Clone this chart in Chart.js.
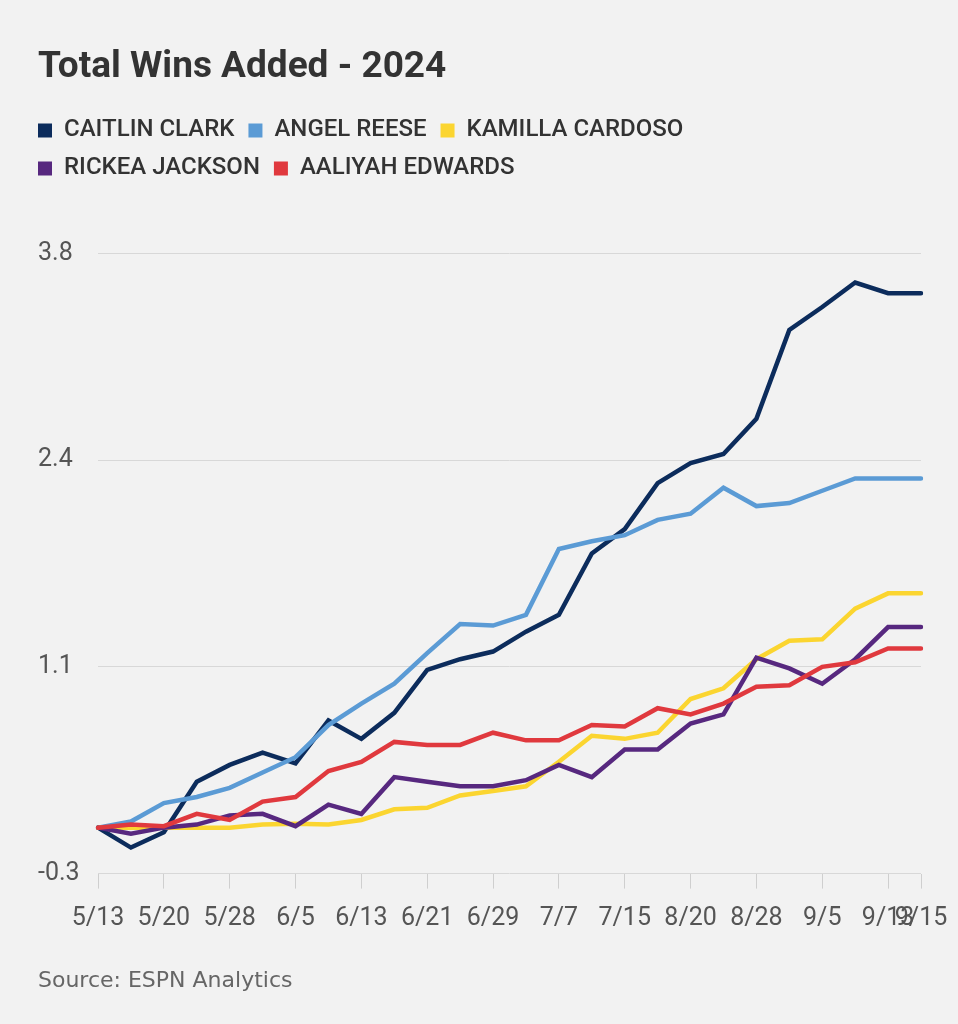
<!DOCTYPE html>
<html>
<head>
<meta charset="utf-8">
<script src="https://cdn.jsdelivr.net/npm/chart.js@4"></script>
<style>
  html, body { margin: 0; padding: 0; background: #f2f2f2; }
  .wrap { width: 958px; height: 1024px; }
</style>
</head>
<body>
<div class="wrap"><canvas id="myChart"></canvas></div>
<script>
// dates of each game window (only every other one is labelled on the axis)
const dates = ['5/13', '5/16', '5/20', '5/24', '5/28', '6/1', '6/5', '6/9', '6/13', '6/17',
    '6/21', '6/25', '6/29', '7/3', '7/7', '7/11', '7/15', '7/17', '8/20', '8/24',
    '8/28', '9/1', '9/5', '9/9', '9/13', '9/15'];

const clark = [0, -0.13, -0.03, 0.30, 0.41, 0.49, 0.42, 0.70, 0.58, 0.75,
    1.03, 1.10, 1.15, 1.28, 1.39, 1.79, 1.95, 2.25, 2.38, 2.44,
    2.67, 3.25, 3.40, 3.56, 3.49, 3.49];
const reese = [0, 0.04, 0.16, 0.20, 0.26, 0.36, 0.46, 0.67, 0.81, 0.94,
    1.14, 1.33, 1.32, 1.39, 1.82, 1.87, 1.91, 2.01, 2.05, 2.22,
    2.10, 2.12, 2.20, 2.28, 2.28, 2.28];
const cardoso = [0, 0, 0, 0, 0, 0.02, 0.025, 0.02, 0.05, 0.12,
    0.13, 0.21, 0.24, 0.27, 0.43, 0.60, 0.58, 0.62, 0.84, 0.91,
    1.10, 1.22, 1.23, 1.43, 1.53, 1.53];
const jackson = [0, -0.04, 0, 0.02, 0.08, 0.09, 0.01, 0.15, 0.09, 0.33,
    0.30, 0.27, 0.27, 0.31, 0.41, 0.33, 0.51, 0.51, 0.68, 0.74,
    1.11, 1.04, 0.94, 1.10, 1.31, 1.31];
const edwards = [0, 0.02, 0.01, 0.09, 0.05, 0.17, 0.20, 0.37, 0.43, 0.56,
    0.54, 0.54, 0.62, 0.57, 0.57, 0.67, 0.66, 0.78, 0.74, 0.81,
    0.92, 0.93, 1.05, 1.08, 1.17, 1.17];

const yTicks = [-0.3, 1.05, 2.4, 3.75];
const yLabels = ['-0.3', '1.1', '2.4', '3.8'];

const FONT = 'Roboto, "Liberation Sans", sans-serif';
const SOURCE_FONT = '"DejaVu Sans", Roboto, sans-serif';

// later players are drawn on top, like the original
const makeLine = (label, data, color, order) => ({
    label: label,
    data: data,
    order: order,
    borderColor: color,
    backgroundColor: color,
    borderWidth: 4.5,
    borderCapStyle: 'round',
    borderJoinStyle: 'miter',
    pointRadius: 0,
    tension: 0,
    fill: false
});

// push the plot down below the legend, and start the legend at the left margin
const legendGap = {
    id: 'legendGap',
    beforeInit(chart) {
        const fit = chart.legend.fit;
        chart.legend.fit = function () {
            fit.bind(chart.legend)();
            this.height += 63;
        };
    },
    afterLayout(chart) {
        chart.legend.left -= chart.legend.options.labels.padding;
    }
};

const ctx = document.getElementById('myChart').getContext('2d');

const myChart = new Chart(ctx, {
    type: 'line',
    data: {
        labels: dates,
        datasets: [
            makeLine('CAITLIN CLARK', clark, '#0c2c5c', 4),
            makeLine('ANGEL REESE', reese, '#5b9bd5', 3),
            makeLine('KAMILLA CARDOSO', cardoso, '#fbd530', 2),
            makeLine('RICKEA JACKSON', jackson, '#57287f', 1),
            makeLine('AALIYAH EDWARDS', edwards, '#e0393e', 0)
        ]
    },
    plugins: [legendGap],
    options: {
        responsive: true,
        maintainAspectRatio: false,
        animation: false,
        layout: {
            padding: { left: 38, right: 37, top: 46, bottom: 30 }
        },
        plugins: {
            title: {
                display: true,
                text: 'Total Wins Added - 2024',
                align: 'start',
                color: '#333333',
                font: { family: FONT, size: 37, weight: 'bold' },
                padding: { top: 0, bottom: 14 }
            },
            subtitle: {
                display: true,
                position: 'bottom',
                text: 'Source: ESPN Analytics',
                align: 'start',
                color: '#666666',
                font: { family: SOURCE_FONT, size: 22 },
                padding: { top: 19, bottom: 0 }
            },
            legend: {
                align: 'start',
                labels: {
                    boxWidth: 14,
                    boxHeight: 14,
                    padding: 14,
                    color: '#333333',
                    font: { family: FONT, size: 24, weight: '500' },
                    sort: (a, b) => a.datasetIndex - b.datasetIndex,
                    generateLabels(chart) {
                        return Chart.defaults.plugins.legend.labels.generateLabels(chart).map(l => {
                            l.fillStyle = l.strokeStyle;
                            l.lineWidth = 0;
                            return l;
                        });
                    }
                }
            },
            tooltip: { enabled: false }
        },
        scales: {
            x: {
                offset: false,
                afterFit: (scale) => {
                    scale.paddingRight = 0;
                },
                grid: {
                    drawOnChartArea: false,
                    drawTicks: true,
                    tickLength: 15,
                    color: '#cfcfcf'
                },
                border: { display: false },
                ticks: {
                    autoSkip: false,
                    maxRotation: 0,
                    padding: 15,
                    color: '#555555',
                    font: { family: FONT, size: 25 },
                    callback: function (value, index) {
                        if (index % 2 === 0 || index === dates.length - 1) {
                            return this.getLabelForValue(value);
                        }
                        return null;
                    }
                }
            },
            y: {
                min: yTicks[0],
                max: yTicks[yTicks.length - 1],
                afterBuildTicks: (scale) => {
                    scale.ticks = yTicks.map(v => ({ value: v }));
                },
                afterFit: (scale) => {
                    scale.width = 60;
                },
                grid: {
                    color: '#d8d8d8',
                    drawTicks: false
                },
                border: { display: false },
                ticks: {
                    crossAlign: 'far',
                    padding: 10,
                    color: '#555555',
                    font: { family: FONT, size: 25 },
                    callback: (value) => yLabels[yTicks.indexOf(value)]
                }
            }
        }
    }
});
</script>
</body>
</html>
